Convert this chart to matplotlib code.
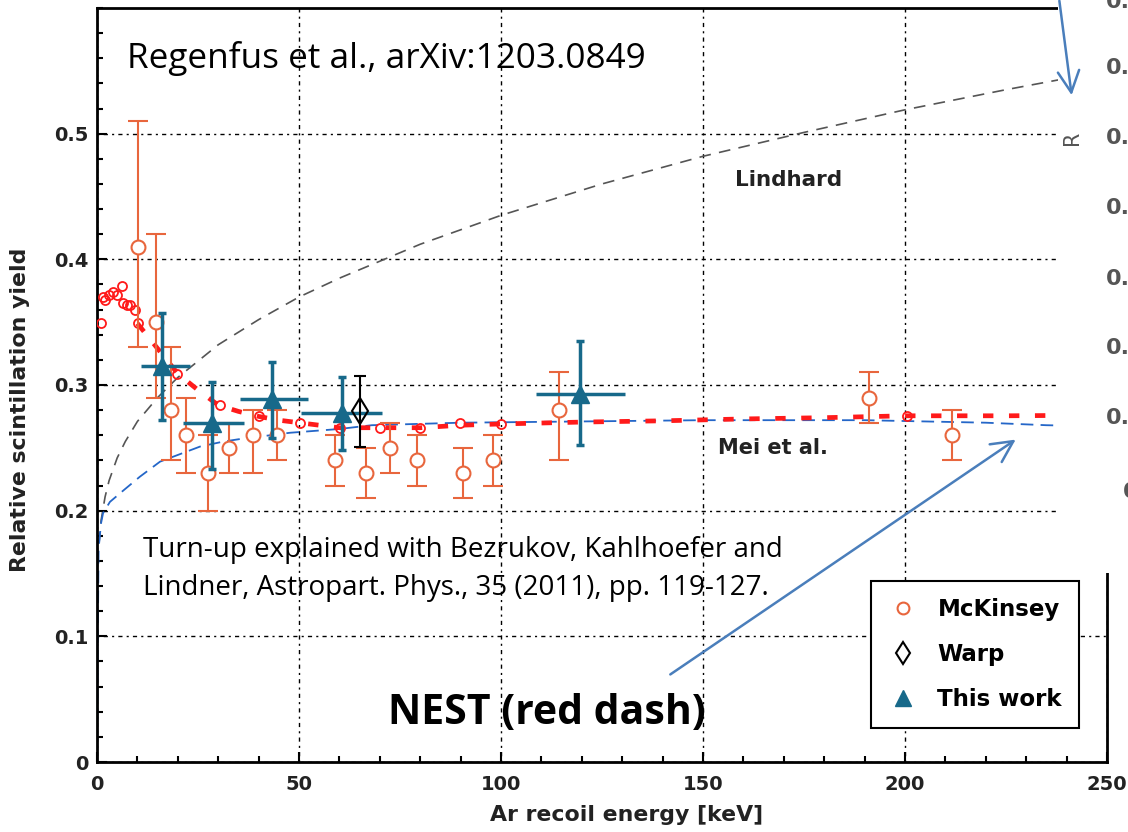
import numpy as np
import matplotlib
matplotlib.use('Agg')
import matplotlib.pyplot as plt
from matplotlib.patches import Rectangle, FancyArrowPatch
from matplotlib.ticker import MultipleLocator

# McKinsey points (open circles, asymmetric y errors)
mck_e = [10.1, 14.5, 18.3, 22.0, 27.5, 32.7, 38.7, 44.6, 58.9, 66.6, 72.5, 79.3, 90.7, 98.1, 114.4, 191.1, 211.7]
mck_y = [0.41, 0.35, 0.28, 0.26, 0.23, 0.25, 0.26, 0.26, 0.24, 0.23, 0.25, 0.24, 0.23, 0.24, 0.28, 0.29, 0.26]
mck_lo = [0.08, 0.06, 0.04, 0.03, 0.03, 0.02, 0.03, 0.02, 0.02, 0.02, 0.02, 0.02, 0.02, 0.02, 0.04, 0.02, 0.02]
mck_hi = [0.10, 0.07, 0.05, 0.03, 0.03, 0.02, 0.02, 0.02, 0.02, 0.02, 0.02, 0.02, 0.02, 0.02, 0.03, 0.02, 0.02]

# Warp
warp_e = [65.2]
warp_y = [0.279]
warp_err = [0.028]

# This work (triangles, x and y errors)
tw_e = [16.0, 28.4, 43.3, 60.6, 119.6]
tw_y = [0.315, 0.270, 0.289, 0.278, 0.293]
tw_xlo = [5, 7, 8, 10, 11]
tw_xhi = [7, 8, 9, 10, 11]
tw_ylo = [0.043, 0.037, 0.031, 0.030, 0.041]
tw_yhi = [0.042, 0.032, 0.029, 0.028, 0.042]

# Lindhard curve (grey dashed)
lind_e = [0.5, 1, 2, 3, 5, 7, 10, 15, 20, 30, 40, 50, 60, 80, 100, 125, 150, 175, 200, 225, 250]
lind_y = [0.174, 0.192, 0.211, 0.224, 0.242, 0.255, 0.271, 0.290, 0.306, 0.332, 0.352, 0.370,
          0.385, 0.412, 0.435, 0.460, 0.482, 0.501, 0.519, 0.535, 0.550]

# Mei et al. (blue dashed)
mei_e = [0, 0.2, 0.4, 1.0, 1.5, 3.2, 6.5, 10.6, 15.6, 18.9, 25.5, 31.3, 35.4, 47.8, 60, 68,
         90, 120, 150, 190, 220, 235, 250]
mei_y = [0.0, 0.10, 0.17, 0.19, 0.198, 0.207, 0.216, 0.227, 0.239, 0.243, 0.251, 0.255, 0.257,
         0.262, 0.265, 0.268, 0.270, 0.271, 0.272, 0.272, 0.270, 0.268, 0.267]

# NEST (thick red dashes + small open circles)
nest_e = [10, 12, 16, 20, 25, 30, 35, 40, 45, 50, 55, 60, 65, 70, 80, 90, 100, 120, 140,
          160, 180, 200, 225, 250]
nest_y = [0.349, 0.341, 0.325, 0.309, 0.296, 0.284, 0.279, 0.275, 0.272, 0.270, 0.268, 0.266,
          0.266, 0.266, 0.266, 0.268, 0.269, 0.2705, 0.2715, 0.273, 0.274, 0.2755, 0.2755, 0.276]
nest_pt_e = [1.0, 1.5, 2.0, 3.0, 4.0, 5.0, 6.1, 6.5, 7.5, 8.2, 9.4, 10.2, 19.9, 30.5, 40, 50.3,
             60.2, 70, 80, 89.9, 100, 200.4]
nest_pt_y = [0.349, 0.370, 0.368, 0.372, 0.374, 0.372, 0.379, 0.365, 0.364, 0.364, 0.360, 0.349,
             0.309, 0.284, 0.275, 0.270, 0.266, 0.266, 0.266, 0.270, 0.269, 0.2756]

orange = '#E8663D'
teal = '#17698A'
red = '#FF1A1A'
blue = '#2466C8'
arrow_c = '#4A7EBB'

W, H = 1128, 832


def fx(px):
    return px / W


def fy(py):
    return 1 - py / H


fig = plt.figure(figsize=(11.28, 8.32), dpi=100)
ax = fig.add_axes([97 / W, 70 / H, 1010 / W, 754 / H])

ax.set_xlim(0, 250)
ax.set_ylim(0, 0.6)
ax.set_xticks([0, 50, 100, 150, 200, 250])
ax.set_yticks([0, 0.1, 0.2, 0.3, 0.4, 0.5])
ax.set_yticklabels(['0', '0.1', '0.2', '0.3', '0.4', '0.5'])
ax.xaxis.set_minor_locator(MultipleLocator(10))
ax.yaxis.set_minor_locator(MultipleLocator(0.02))
ax.tick_params(which='both', direction='in', top=False, right=False, width=1.5,
               labelsize=14, labelcolor='#222222')
ax.tick_params(which='major', length=7)
ax.tick_params(which='minor', length=4)
ax.tick_params(axis='y', pad=6)
ax.tick_params(axis='x', pad=9)
for lab in ax.get_xticklabels() + ax.get_yticklabels():
    lab.set_fontweight('bold')
for s in ax.spines.values():
    s.set_linewidth(2)

ax.grid(True, which='major', color='black', lw=1.0, linestyle=(0, (1.5, 3, 3, 3)))
ax.set_axisbelow(True)

ax.plot(lind_e, lind_y, color='#555555', lw=1.2, dashes=(7, 5), zorder=2)
ax.plot(mei_e, mei_y, color=blue, lw=1.3, dashes=(7, 4), zorder=2)
ax.plot(nest_e, nest_y, color=red, lw=3.4, dashes=(2.2, 3.3), zorder=3)
ax.plot(nest_pt_e, nest_pt_y, 'o', ms=6.5, mfc='none', mec=red, mew=1.3, zorder=3)

mck = ax.errorbar(mck_e, mck_y, yerr=[mck_lo, mck_hi], fmt='o', ms=10, mfc='white',
                  mec=orange, mew=1.5, ecolor=orange, elinewidth=1.5, capsize=7,
                  capthick=1.5, zorder=4)
ax.errorbar(tw_e, tw_y, xerr=[tw_xlo, tw_xhi], fmt='none', ecolor=teal, elinewidth=2.5,
            capsize=0, zorder=5)
tw = ax.errorbar(tw_e, tw_y, yerr=[tw_ylo, tw_yhi], fmt='^', ms=13, color=teal, mec=teal,
                 ecolor=teal, elinewidth=2.5, capsize=3, capthick=2.5, zorder=5)
warp = ax.errorbar(warp_e, warp_y, yerr=[warp_err, warp_err], fmt='d', ms=13, mfc='none',
                   mec='black', mew=1.5, ecolor='black', elinewidth=1.5, capsize=4,
                   capthick=1.5, zorder=6)

ax.text(158, 0.463, 'Lindhard', fontsize=15.5, fontweight='bold', color='#222222', va='center')
ax.text(153.7, 0.25, 'Mei et al.', fontsize=15, fontweight='bold', color='#222222', va='center')

ax.set_xlabel('Ar recoil energy [keV]', fontsize=15.8, fontweight='bold', color='#222222')
ax.xaxis.set_label_coords((627 - 97) / 1010, -(815 - 762) / 754)
ax.xaxis.label.set_va('center')
ax.set_ylabel('Relative scintillation yield', fontsize=15.8, fontweight='bold', color='#222222')
ax.yaxis.set_label_coords(-(97 - 20) / 1010, (762 - 410) / 754)
ax.yaxis.label.set_va('center')

leg = ax.legend([mck[0], warp[0], tw[0]], ['McKinsey', 'Warp', 'This work'],
                loc='upper left', bbox_to_anchor=(fx(871), fy(581)),
                bbox_transform=fig.transFigure, numpoints=1, fancybox=False,
                framealpha=1, edgecolor='black', borderpad=0.75, handlelength=1.3,
                handletextpad=0.85, labelspacing=0.95, borderaxespad=0, markerscale=0.85,
                prop={'size': 16.5, 'weight': 'bold'})
leg.get_frame().set_linewidth(1.5)
leg.set_zorder(8)

# slide overlay texts
fig.text(fx(127), fy(68), 'Regenfus et al., arXiv:1203.0849', family='Open Sans', fontsize=25.3,
         va='baseline', ha='left')
fig.text(fx(143), fy(557), 'Turn-up explained with Bezrukov, Kahlhoefer and', family='Open Sans',
         fontsize=20, va='baseline', ha='left')
fig.text(fx(143), fy(595), 'Lindner, Astropart. Phys., 35 (2011), pp. 119-127.', family='Open Sans',
         fontsize=20, va='baseline', ha='left')
fig.text(fx(388), fy(724), 'NEST (red dash)', family='Open Sans', fontweight='bold', fontsize=29.5,
         va='baseline', ha='left')

# partially visible neighbouring plot on the right
fig.add_artist(Rectangle((fx(1058), fy(573)), 70 / W, 573 / H, transform=fig.transFigure,
                         facecolor='white', edgecolor='none', zorder=10))
fig.text(fx(1072), fy(138), 'R', rotation=90, fontsize=15, color='#555555',
         ha='center', va='center', zorder=11)
side_labels = ['0.7', '0.6', '0.5', '0.4', '0.3', '0.2', '0.1']
side_y = [2, 68, 138, 208, 279, 348, 418]
for lab, py in zip(side_labels, side_y):
    fig.text(fx(1106), fy(py), lab, fontsize=16, color='#555555', fontweight='bold',
             ha='left', va='center', zorder=11)
fig.text(fx(1123), fy(492), '0', fontsize=16, color='#555555', fontweight='bold',
         ha='left', va='center', zorder=11)

for a, b in [((668, 676), (1018, 438)), ((1059, -2), (1072, 98))]:
    arr = FancyArrowPatch((fx(a[0]), fy(a[1])), (fx(b[0]), fy(b[1])),
                          transform=fig.transFigure, arrowstyle='->,head_length=0.7,head_width=0.35',
                          mutation_scale=22, color=arrow_c, lw=1.8, zorder=12)
    fig.add_artist(arr)

fig.savefig('out.png', dpi=100)
